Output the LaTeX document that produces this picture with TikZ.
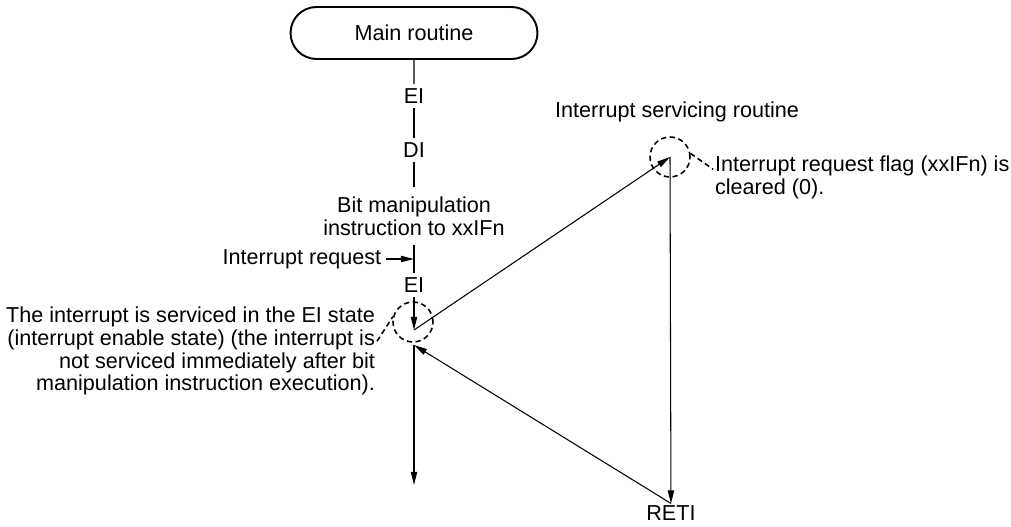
\documentclass[tikz,border=0pt]{standalone}
\usepackage{fontspec}
\setmainfont{Liberation Sans}
\usetikzlibrary{arrows.meta,shapes.misc}
\tikzset{
  routine/.style={rounded rectangle,draw,line width=1.1pt,minimum width=4.94cm,minimum height=1.04cm,inner sep=0pt},
  lab/.style={inner sep=2.5pt},
  note/.style={inner sep=1pt},
  flow/.style={line width=.6pt},
  arr/.style={line width=.6pt,-{Triangle[length=7.5pt,width=3.6pt]}},
  ring/.style={circle,draw,line width=.9pt,dash pattern=on 3pt off 2pt,minimum size=.8cm,inner sep=0pt},
  leader/.style={line width=.9pt,dash pattern=on 3pt off 2pt}
}
\begin{document}
\begin{tikzpicture}[x=0.02cm,y=-0.02cm,font=\fontsize{12.3}{13}\selectfont]
  \useasboundingbox (0,0) rectangle (1011,527);
  \node[routine] (main) at (414,33) {Main routine};
  \node[lab] (ei1) at (414,96) {EI};
  \node[lab] (di) at (414,150) {DI};
  \node[lab,align=center,inner ysep=5.5pt] (bit) at (414,216) {Bit manipulation\\instruction to xxIFn};
  \node[lab] (ei2) at (414,285) {EI};
  \node[lab,anchor=east] (irq) at (386,259) {Interrupt request};
  \node[ring] (c1) at (413,322) {};
  \coordinate (intp) at (414,330);
  \node[ring] (c2) at (670,157) {};
  \coordinate (isr) at (670,157);
  \node[lab] (isrlbl) at (677,112) {Interrupt servicing routine};
  \node[note] (reti) at (671,513) {RETI};
  \coordinate (ret) at (414,345);
  \coordinate (out) at (414,485);
  \node[note,align=right,anchor=east] (note1) at (377,351) {The interrupt is serviced in the EI state\\(interrupt enable state) (the interrupt is\\not serviced immediately after bit\\manipulation instruction execution).};
  \node[note,align=left,anchor=west] (note2) at (713,177) {Interrupt request flag (xxIFn) is\\cleared (0).};

  \draw[flow] (main) -- (ei1);
  \draw[flow] (ei1) -- (di);
  \draw[flow] (di) -- (bit);
  \draw[flow] (bit) -- (ei2);
  \draw[arr] (irq) -- (irq -| ei2);
  \draw[arr] (ei2) -- (intp);
  \draw[arr] (intp) -- (isr);
  \draw[arr] (isr) -- (reti);
  \draw[arr] (reti.north) -- (ret);
  \draw[arr] (ret) -- (out);
  \draw[leader] (note1.3) -- (c1.165);
  \draw[leader] (c2.10) -- (note2.177);
\end{tikzpicture}
\end{document}
